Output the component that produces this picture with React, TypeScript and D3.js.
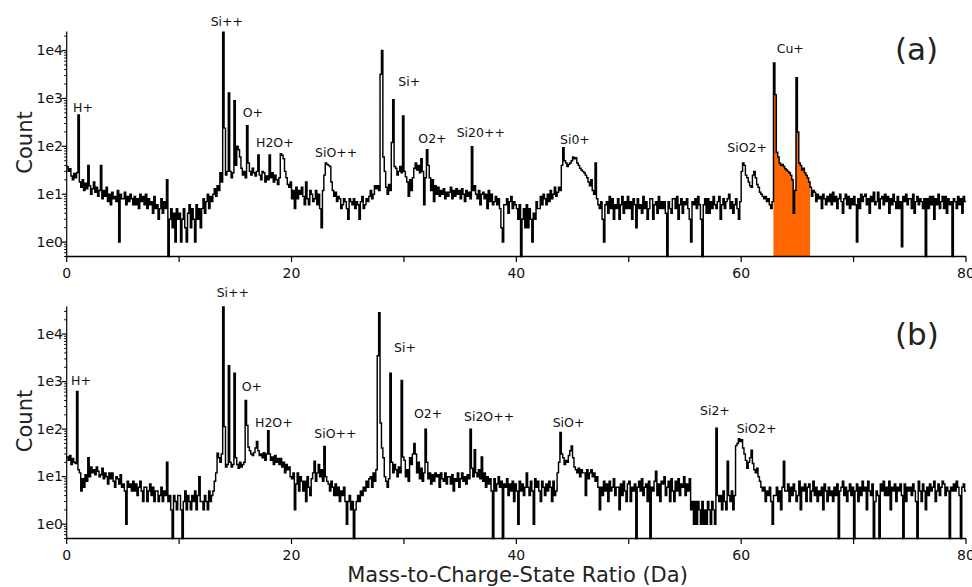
import React from "react";
import * as d3 from "d3";

// Bin width (Da) of the spectra below; bin i starts at i * BIN (8 bins per Da, 0..80 Da)
const BIN = 0.125;

// Panel (a) counts, one row per Da
const countsA = [
  38, 30, 34, 24, 20, 27, 22, 28,
  450, 18, 14, 20, 12, 17, 13, 40,
  15, 10, 13, 18, 11, 14, 9, 12,
  40, 8, 12, 9, 14, 7, 10, 6,
  11, 8, 9, 7, 12, 1, 10, 8,
  8, 11, 6, 9, 7, 10, 8, 6,
  9, 6, 8, 5, 10, 7, 9, 6,
  10, 5, 8, 6, 7, 4, 9, 5,
  6, 3, 5, 8, 4, 7, 5, 20,
  0, 3, 5, 2, 4, 1, 5, 3,
  4, 1, 3, 5, 2, 1, 4, 6,
  2, 5, 3, 1, 6, 3, 5, 2,
  5, 8, 4, 7, 10, 5, 9, 7,
  10, 13, 9, 15, 12, 28, 18, 24000,
  240, 25, 30, 1300, 30, 22, 28, 900,
  40, 100, 85, 60, 35, 25, 30, 22,
  270, 45, 30, 25, 35, 28, 24, 30,
  66, 25, 20, 30, 28, 18, 24, 20,
  66, 22, 28, 18, 25, 20, 16, 22,
  70, 65, 55, 30, 22, 16, 14, 18,
  8, 12, 5, 14, 8, 12, 10, 14,
  9, 6, 18, 8, 6, 12, 10, 7,
  8, 12, 6, 10, 5, 2, 12, 25,
  45, 42, 40, 38, 18, 12, 9, 11,
  7, 9, 8, 5, 6, 8, 7, 5,
  3, 8, 7, 6, 8, 5, 7, 6,
  3, 7, 9, 5, 6, 8, 7, 9,
  12, 8, 10, 15, 13, 15, 12, 3200,
  10000, 60, 30, 14, 10, 16, 12, 120,
  940, 38, 35, 25, 30, 38, 28, 430,
  30, 23, 18, 9, 20, 12, 22, 35,
  45, 32, 40, 28, 55, 30, 6, 22,
  85, 40, 22, 12, 20, 7, 15, 10,
  14, 9, 12, 10, 13, 8, 11, 9,
  11, 14, 8, 12, 9, 13, 10, 12,
  8, 13, 10, 7, 12, 9, 11, 8,
  98, 12, 15, 10, 8, 12, 6, 10,
  11, 8, 10, 5, 12, 7, 10, 6,
  7, 9, 6, 8, 5, 2, 1, 6,
  6, 8, 4, 7, 9, 5, 7, 6,
  5, 3, 6, 0, 3, 5, 2, 6,
  2, 5, 3, 1, 4, 3, 7, 5,
  5, 9, 6, 10, 8, 6, 10, 7,
  12, 8, 10, 14, 9, 11, 14, 12,
  40, 93, 50, 45, 38, 42, 45, 50,
  60, 55, 58, 45, 40, 35, 32, 30,
  28, 25, 22, 18, 15, 20, 12, 10,
  45, 8, 6, 5, 7, 3, 1, 6,
  7, 4, 9, 5, 8, 3, 6, 5,
  8, 3, 6, 9, 4, 7, 5, 9,
  5, 7, 3, 8, 6, 2, 8, 5,
  6, 4, 9, 5, 7, 3, 5, 8,
  8, 3, 6, 7, 4, 9, 5, 7,
  5, 7, 4, 0, 7, 5, 4, 8,
  8, 5, 9, 3, 6, 8, 4, 7,
  6, 8, 5, 3, 1, 7, 6, 8,
  5, 9, 6, 3, 0, 6, 8, 4,
  8, 4, 7, 5, 9, 6, 5, 7,
  9, 3, 6, 8, 5, 7, 8, 10,
  5, 7, 4, 6, 8, 5, 3, 7,
  30, 45, 40, 25, 22, 18, 15, 14,
  25, 30, 22, 16, 14, 11, 10, 9,
  8, 9, 7, 8, 6, 5, 7, 5500,
  1200, 75, 60, 45, 40, 42, 38, 34,
  32, 30, 28, 25, 20, 4, 12, 2700,
  200, 45, 40, 32, 35, 28, 25, 22,
  18, 14, 9, 12, 11, 7, 10, 8,
  9, 5, 10, 8, 6, 9, 7, 10,
  6, 11, 7, 9, 5, 8, 10, 7,
  4, 8, 10, 6, 9, 5, 8, 6,
  9, 6, 1, 8, 5, 10, 7, 9,
  10, 6, 8, 4, 9, 7, 11, 6,
  7, 11, 5, 8, 9, 6, 10, 7,
  9, 4, 8, 6, 10, 7, 5, 9,
  5, 7, 0.8, 9, 7, 10, 6, 8,
  8, 5, 10, 4, 7, 9, 6, 8,
  7, 5, 8, 0, 8, 5, 9, 6,
  9, 3, 8, 6, 10, 5, 7, 9,
  5, 9, 4, 8, 6, 7, 0, 8,
  7, 5, 9, 6, 8, 4, 9, 7,
];

// Panel (b) counts, one row per Da
const countsB = [
  26, 22, 28, 18, 24, 20, 19, 620,
  14, 12, 5, 9, 6, 11, 8, 25,
  10, 16, 12, 14, 11, 16, 13, 10,
  11, 15, 9, 12, 10, 7, 12, 9,
  12, 8, 6, 10, 9, 7, 11, 6,
  7, 5, 1, 8, 6, 7, 5, 8,
  5, 7, 4, 6, 8, 5, 3, 6,
  6, 3, 5, 7, 4, 6, 3, 5,
  5, 3, 4, 6, 3, 5, 4, 20,
  3, 4, 2, 0, 4, 3, 2, 4,
  4, 2, 0, 3, 5, 2, 4, 3,
  2, 4, 3, 5, 2, 4, 10, 3,
  3, 2, 4, 3, 2, 5, 3, 4,
  5, 8, 12, 31, 25, 20, 30, 37000,
  113, 16, 18, 2150, 20, 16, 18, 1500,
  25, 18, 15, 20, 16, 18, 20, 400,
  120, 42, 35, 30, 28, 32, 40, 55,
  35, 28, 30, 25, 32, 22, 30, 92,
  30, 22, 26, 18, 28, 20, 24, 18,
  24, 16, 20, 12, 18, 14, 16, 10,
  9, 12, 2, 7, 12, 5, 10, 8,
  5, 8, 3, 10, 6, 4, 9, 12,
  21, 8, 12, 18, 10, 14, 8, 43,
  10, 8, 7, 5, 8, 6, 4, 7,
  4, 6, 3, 5, 4, 6, 3, 1,
  3, 4, 2, 3, 0, 2, 3, 4,
  3, 5, 4, 6, 5, 8, 6, 9,
  10, 6, 12, 8, 14, 3500, 28000, 135,
  40, 25, 10, 8, 6, 9, 1500, 20,
  12, 18, 14, 10, 16, 12, 1050, 26,
  22, 10, 14, 8, 25, 18, 30, 50,
  30, 12, 20, 9, 15, 8, 12, 100,
  20, 9, 12, 7, 11, 8, 12, 10,
  11, 6, 12, 9, 8, 12, 7, 10,
  10, 7, 11, 5, 9, 8, 12, 6,
  9, 12, 8, 10, 7, 11, 9, 100,
  15, 10, 37, 12, 10, 14, 9, 26,
  8, 12, 6, 10, 7, 9, 5, 0,
  9, 5, 7, 10, 6, 8, 0, 7,
  6, 9, 4, 7, 5, 8, 3, 7,
  5, 1, 8, 5, 7, 4, 6, 12,
  6, 4, 8, 5, 1, 9, 6, 8,
  5, 3, 8, 6, 4, 7, 5, 8,
  6, 3, 8, 4, 5, 12, 20, 85,
  30, 25, 18, 22, 20, 28, 35, 44,
  25, 16, 14, 12, 15, 10, 14, 12,
  12, 4, 14, 9, 12, 14, 10, 12,
  8, 10, 6, 2, 6, 4, 8, 5,
  7, 3, 8, 5, 6, 9, 4, 6,
  6, 2, 7, 4, 8, 5, 3, 7,
  8, 3, 6, 5, 7, 0, 6, 8,
  5, 9, 4, 6, 7, 3, 8, 0,
  6, 5, 8, 13, 4, 7, 3, 8,
  7, 10, 4, 6, 8, 3, 9, 5,
  3, 8, 5, 9, 4, 7, 6, 10,
  4, 7, 5, 9, 2, 3, 1, 3,
  1, 3, 2, 1, 3, 1, 2, 1,
  3, 2, 1, 3, 2, 1, 105, 4,
  3, 4, 2, 5, 3, 2, 21, 4,
  3, 5, 2, 4, 45, 50, 63, 55,
  60, 40, 30, 22, 15, 20, 25, 36,
  19, 14, 12, 15, 10, 8, 6, 5,
  6, 3, 5, 4, 6, 3, 1, 4,
  4, 6, 3, 5, 2, 6, 21, 5,
  5, 7, 3, 6, 4, 7, 5, 3,
  4, 8, 2, 6, 5, 7, 3, 6,
  7, 3, 5, 8, 4, 6, 3, 5,
  4, 6, 2, 7, 5, 3, 6, 4,
  5, 3, 6, 4, 7, 0, 5, 6,
  8, 4, 6, 3, 5, 7, 4, 6,
  0, 5, 7, 3, 6, 4, 8, 5,
  6, 2, 8, 5, 4, 7, 0, 3,
  5, 4, 0, 7, 5, 8, 4, 6,
  4, 8, 2, 6, 5, 7, 3, 6,
  5, 7, 4, 0, 7, 3, 6, 5,
  6, 4, 7, 5, 3, 0, 8, 5,
  3, 7, 5, 2, 6, 4, 7, 5,
  6, 8, 3, 5, 7, 4, 6, 8,
  7, 4, 6, 5, 0, 6, 5, 7,
  5, 8, 6, 4, 0, 6, 7, 5,
];

// Highlighted Cu+ range in panel (a), Da
const cuRange = [62.87, 66.13];

// Axis ticks
const xMajorTicks = [0, 10, 20, 30, 40, 50, 60, 70, 80];
const xTickLabels = ["0", "", "20", "", "40", "", "60", "", "80"];
const yMajorTicks = [1, 10, 100, 1000, 10000];
const yTickLabels = ["1e0", "1e1", "1e2", "1e3", "1e4"];

// Peak labels
const labelsA = ["H+", "Si++", "O+", "H2O+", "SiO++", "Si+", "O2+", "Si20++", "Si0+", "SiO2+", "Cu+"];
const labelsB = ["H+", "Si++", "O+", "H2O+", "SiO++", "Si+", "O2+", "Si2O++", "SiO+", "Si2+", "SiO2+"];

// ---- layout (pixels) ----
const labelPosA = [
  [73, 111.5], [210.7, 26], [242.7, 116.5], [256, 147], [315, 156.5], [398.3, 86],
  [418.3, 142.5], [456.7, 137], [560, 144], [727.3, 151.5], [776.7, 52.5],
];
const labelPosB = [
  [71, 385], [216.7, 297], [241.7, 390.5], [255, 426.5], [314.3, 438], [394, 351.5],
  [414, 418], [464, 420.5], [552.7, 426.5], [700, 415], [736.7, 432.5],
];

const FONT = "'DejaVu Sans', Verdana, sans-serif";
const X0 = 66.7;
const X1 = 966;
const xScale = d3.scaleLinear().domain([0, 80]).range([X0, X1]);

type PanelProps = {
  counts: number[];
  yMax: number;
  yBottom: number;
  yTop: number;
  labels: string[];
  labelPos: number[][];
  tag: string;
  tagBaseline: number;
  countY: number;
  fillRange?: number[];
  id: string;
};

function Panel({ counts, yMax, yBottom, yTop, labels, labelPos, tag, tagBaseline, countY, fillRange, id }: PanelProps) {
  const yMin = 0.5;
  const y = d3.scaleLog().domain([yMin, yMax]).range([yBottom, yTop]);
  const pts: [number, number][] = counts.map((v, i) => [i * BIN, v]);
  pts.push([counts.length * BIN, counts[counts.length - 1]]);
  const yv = (v: number) => y(Math.min(Math.max(v, yMin), yMax));
  const line = d3
    .line<[number, number]>()
    .x((d) => xScale(d[0]))
    .y((d) => yv(d[1]))
    .curve(d3.curveStepAfter);
  const area = d3
    .area<[number, number]>()
    .x((d) => xScale(d[0]))
    .y0(yBottom)
    .y1((d) => yv(d[1]))
    .curve(d3.curveStepAfter);

  const minor: number[] = [];
  for (let e = -1; e <= 4; e++) {
    for (let k = 2; k <= 9; k++) {
      const v = k * Math.pow(10, e);
      if (v >= yMin && v <= yMax && !yMajorTicks.includes(v)) minor.push(v);
    }
  }

  return (
    <g>
      {fillRange && (
        <>
          <defs>
            <clipPath id={id}>
              <rect
                x={xScale(fillRange[0])}
                y={yTop - 5}
                width={xScale(fillRange[1]) - xScale(fillRange[0])}
                height={yBottom - yTop + 5}
              />
            </clipPath>
          </defs>
          <path d={area(pts) || ""} fill="#ff6600" stroke="none" clipPath={`url(#${id})`} />
        </>
      )}
      <path d={line(pts) || ""} fill="none" stroke="#000" strokeWidth={1.45} />
      {/* y axis */}
      <line x1={X0} x2={X0} y1={yTop} y2={yBottom} stroke="#000" strokeWidth={1.2} />
      {yMajorTicks.map((t, i) => (
        <g key={"ym" + t}>
          <line x1={X0 - 5} x2={X0} y1={y(t)} y2={y(t)} stroke="#000" strokeWidth={1.2} />
          <text x={63} y={y(t) + 4.5} textAnchor="end" fontSize={14} fontFamily={FONT} fill="#111">
            {yTickLabels[i]}
          </text>
        </g>
      ))}
      {minor.map((t) => (
        <line key={"yn" + t} x1={X0 - 2.5} x2={X0} y1={y(t)} y2={y(t)} stroke="#000" strokeWidth={1} />
      ))}
      {/* x axis */}
      <line x1={X0} x2={X1} y1={yBottom} y2={yBottom} stroke="#000" strokeWidth={1.6} />
      {xMajorTicks.map((t, i) => (
        <g key={"x" + t}>
          <line x1={xScale(t)} x2={xScale(t)} y1={yBottom} y2={yBottom + 5.5} stroke="#000" strokeWidth={1.2} />
          {xTickLabels[i] && (
            <text x={xScale(t)} y={yBottom + 21.5} textAnchor="middle" fontSize={14} fontFamily={FONT} fill="#111">
              {xTickLabels[i]}
            </text>
          )}
        </g>
      ))}
      <text
        transform={`translate(32,${countY}) rotate(-90)`}
        textAnchor="middle"
        fontSize={21}
        fontFamily={FONT}
        fill="#222"
      >
        Count
      </text>
      <text x={895} y={tagBaseline} fontSize={31} fontFamily={FONT} fill="#222">
        {tag}
      </text>
      {labels.map((s, i) => (
        <text key={"l" + i} x={labelPos[i][0]} y={labelPos[i][1]} fontSize={12.5} fontFamily={FONT} fill="#111">
          {s}
        </text>
      ))}
    </g>
  );
}

export default function App() {
  return (
    <svg
      width={972}
      height={587}
      viewBox="0 0 972 587"
      style={{ position: "absolute", left: 0, top: 0, display: "block", background: "#fff" }}
    >
      <rect x={0} y={0} width={972} height={587} fill="#fff" />
      <Panel
        counts={countsA}
        yMax={25000}
        yBottom={256.5}
        yTop={31.5}
        labels={labelsA}
        labelPos={labelPosA}
        tag="(a)"
        tagBaseline={60}
        countY={142.5}
        fillRange={cuRange}
        id="cuclip"
      />
      <Panel
        counts={countsB}
        yMax={38000}
        yBottom={538.5}
        yTop={306.5}
        labels={labelsB}
        labelPos={labelPosB}
        tag="(b)"
        tagBaseline={345}
        countY={421}
        id="none"
      />
      <text x={517.5} y={582} textAnchor="middle" fontSize={21} fontFamily={FONT} fill="#222">
        Mass-to-Charge-State Ratio (Da)
      </text>
    </svg>
  );
}
